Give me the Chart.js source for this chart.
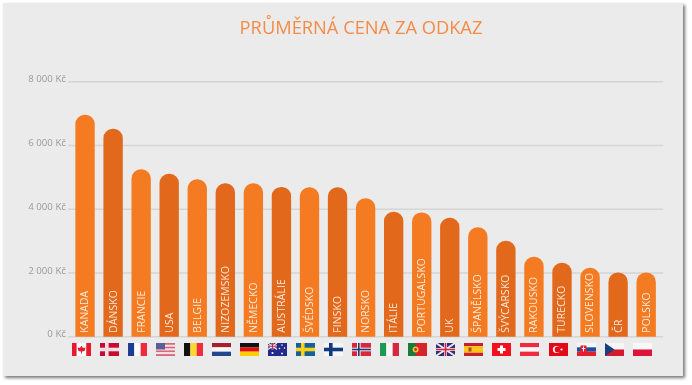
<!DOCTYPE html>
<html lang="cs">
<head>
  <meta charset="UTF-8">
  <title>Průměrná cena za odkaz</title>
  <script src="https://cdn.jsdelivr.net/npm/chart.js"></script>
  <style>
    body {
      margin: 0;
      background: #fff;
      font-family: "Open Sans", sans-serif;
    }
    #panel {
      position: absolute;
      left: 3px;
      top: 3px;
      width: 680px;
      height: 373px;
      background: #ebebeb;
      box-shadow: 2px 2px 3px #777;
    }
    #title {
      position: absolute;
      left: 161px;
      width: 400px;
      top: 14px;
      text-align: center;
      font-size: 18.3px;
      line-height: 26px;
      color: #f58b47;
      filter: blur(0.3px);
    }
    #wrap {
      position: absolute;
      left: 0;
      top: 0;
      width: 692px;
      height: 385px;
      filter: blur(0.35px);
    }
  </style>
</head>
<body>
<div id="panel"></div>
<div id="title">PRŮMĚRNÁ CENA ZA ODKAZ</div>
<div id="wrap"><canvas id="chart"></canvas></div>

<script>
  const countries = ['KANADA', 'DÁNSKO', 'FRANCIE', 'USA', 'BELGIE', 'NIZOZEMSKO', 'NĚMECKO', 'AUSTRÁLIE', 'ŠVÉDSKO', 'FINSKO', 'NORSKO', 'ITÁLIE', 'PORTUGALSKO', 'UK', 'ŠPANĚLSKO', 'ŠVÝCARSKO', 'RAKOUSKO', 'TURECKO', 'SLOVENSKO', 'ČR', 'POLSKO'];
  const prices = [6950, 6510, 5240, 5100, 4930, 4800, 4800, 4690, 4680, 4680, 4330, 3910, 3890, 3720, 3420, 3000, 2500, 2310, 2150, 2000, 2000];
  const tickLabels = ['0 Kč', '2 000 Kč', '4 000 Kč', '6 000 Kč', '8 000 Kč'];

  const LIGHT = '#f57b22';
  const DARK = '#e2691b';
  const FLAG_W = 19;
  const FLAG_H = 13;

  // flag helpers, all in local flag coordinates
  function hBands(c, colors) {
    colors.forEach((col, i) => {
      c.fillStyle = col;
      c.fillRect(0, i * FLAG_H / colors.length, FLAG_W, FLAG_H / colors.length);
    });
  }
  function vBands(c, colors) {
    colors.forEach((col, i) => {
      c.fillStyle = col;
      c.fillRect(i * FLAG_W / colors.length, 0, FLAG_W / colors.length, FLAG_H);
    });
  }
  function nordic(c, bg, cross, inner) {
    c.fillStyle = bg;
    c.fillRect(0, 0, FLAG_W, FLAG_H);
    c.fillStyle = cross;
    c.fillRect(5, 0, 3.6, FLAG_H);
    c.fillRect(0, 4.7, FLAG_W, 3.6);
    if (inner) {
      c.fillStyle = inner;
      c.fillRect(6, 0, 1.6, FLAG_H);
      c.fillRect(0, 5.7, FLAG_W, 1.6);
    }
  }
  function dot(c, x, y, r, col) {
    c.fillStyle = col;
    c.beginPath();
    c.arc(x, y, r, 0, Math.PI * 2);
    c.fill();
  }
  function union(c, w, h, lw) {
    c.fillStyle = '#27337f';
    c.fillRect(0, 0, w, h);
    c.strokeStyle = '#f4e6ea';
    c.lineWidth = lw;
    c.beginPath();
    c.moveTo(0, 0); c.lineTo(w, h);
    c.moveTo(w, 0); c.lineTo(0, h);
    c.stroke();
    c.lineWidth = lw * 1.5;
    c.beginPath();
    c.moveTo(w / 2, 0); c.lineTo(w / 2, h);
    c.moveTo(0, h / 2); c.lineTo(w, h / 2);
    c.stroke();
    c.strokeStyle = '#d2233f';
    c.lineWidth = lw * 0.8;
    c.stroke();
  }

  const flagPainters = {
    'KANADA': c => {
      vBands(c, ['#e8192c', '#fff', '#fff', '#e8192c']);
      c.fillStyle = '#e8192c';
      c.beginPath();
      c.moveTo(9.5, 2.5); c.lineTo(11, 5); c.lineTo(13.5, 4.5); c.lineTo(12.5, 8);
      c.lineTo(10, 8.5); c.lineTo(10, 10.5); c.lineTo(9, 10.5); c.lineTo(9, 8.5);
      c.lineTo(6.5, 8); c.lineTo(5.5, 4.5); c.lineTo(8, 5);
      c.closePath();
      c.fill();
    },
    'DÁNSKO': c => nordic(c, '#c60c30', '#f3dfe3'),
    'FRANCIE': c => vBands(c, ['#1c3f94', '#fff', '#ee2a3c']),
    'USA': c => {
      const stripes = [];
      for (let i = 0; i < 7; i++) stripes.push(i % 2 ? '#f4e4e8' : '#d9687c');
      hBands(c, stripes);
      c.fillStyle = '#5a5f94';
      c.fillRect(0, 0, 9, 6.5);
    },
    'BELGIE': c => vBands(c, ['#111', '#f8d92c', '#ee2e3a']),
    'NIZOZEMSKO': c => hBands(c, ['#a81f30', '#f6f6f6', '#21468b']),
    'NĚMECKO': c => hBands(c, ['#111', '#dd1010', '#ffce00']),
    'AUSTRÁLIE': c => {
      c.fillStyle = '#1f2a8c';
      c.fillRect(0, 0, FLAG_W, FLAG_H);
      union(c, 9, 6.5, 1.2);
      dot(c, 4.5, 10, 1.1, '#fff');
      dot(c, 14, 2, 0.8, '#fff');
      dot(c, 11.5, 5.5, 0.8, '#fff');
      dot(c, 16.5, 5, 0.8, '#fff');
      dot(c, 14, 10.5, 0.9, '#fff');
    },
    'ŠVÉDSKO': c => nordic(c, '#14609f', '#fcd116'),
    'FINSKO': c => nordic(c, '#f6f6f6', '#123a80'),
    'NORSKO': c => nordic(c, '#d9283a', '#f3eef0', '#1f3a7a'),
    'ITÁLIE': c => vBands(c, ['#1b9a55', '#f6f6f6', '#d6283e']),
    'PORTUGALSKO': c => {
      c.fillStyle = '#d8222c';
      c.fillRect(0, 0, FLAG_W, FLAG_H);
      c.fillStyle = '#1a7a3a';
      c.fillRect(0, 0, 7.6, FLAG_H);
      dot(c, 7.6, 6.5, 3, '#e6c337');
      dot(c, 7.6, 6.5, 1.4, '#c9302c');
    },
    'UK': c => union(c, FLAG_W, FLAG_H, 2),
    'ŠPANĚLSKO': c => {
      hBands(c, ['#c8202c', '#fcc30b', '#fcc30b', '#c8202c']);
      c.fillStyle = '#b5472a';
      c.fillRect(4.5, 4.5, 3, 4);
    },
    'ŠVÝCARSKO': c => {
      c.fillStyle = '#f2101e';
      c.fillRect(0, 0, FLAG_W, FLAG_H);
      c.fillStyle = '#fff';
      c.fillRect(8, 2.5, 3, 8);
      c.fillRect(5.5, 5, 8, 3);
    },
    'RAKOUSKO': c => hBands(c, ['#ef2b3d', '#f8f8f8', '#ef2b3d']),
    'TURECKO': c => {
      c.fillStyle = '#e30a17';
      c.fillRect(0, 0, FLAG_W, FLAG_H);
      dot(c, 7.5, 6.5, 3.6, '#fff');
      dot(c, 8.6, 6.5, 2.9, '#e30a17');
      dot(c, 12.5, 6.5, 1.1, '#fff');
    },
    'SLOVENSKO': c => {
      hBands(c, ['#f6f6f6', '#1c4fa0', '#e4202c']);
      c.fillStyle = '#e4202c';
      c.fillRect(3.5, 2.5, 6, 6);
      dot(c, 6.5, 8.5, 3, '#e4202c');
      c.fillStyle = '#fff';
      c.fillRect(6, 3.5, 1, 5);
      c.fillRect(4.8, 5, 3.4, 0.9);
    },
    'ČR': c => {
      hBands(c, ['#f6f6f6', '#d01c2e']);
      c.fillStyle = '#1a3f7c';
      c.beginPath();
      c.moveTo(0, 0); c.lineTo(9.5, FLAG_H / 2); c.lineTo(0, FLAG_H);
      c.closePath();
      c.fill();
    },
    'POLSKO': c => hBands(c, ['#f8f8f8', '#dc143c'])
  };

  // labels inside the bars and the flags below them
  const decorations = {
    id: 'decorations',
    afterDatasetsDraw(chart) {
      const ctx = chart.ctx;
      const meta = chart.getDatasetMeta(0);
      const baseY = chart.scales.y.getPixelForValue(0);
      meta.data.forEach((bar, i) => {
        ctx.save();
        ctx.translate(bar.x + 0.5, baseY - 4);
        ctx.rotate(-Math.PI / 2);
        ctx.font = '10.3px "Open Sans"';
        ctx.letterSpacing = '0.15px';
        ctx.fillStyle = 'rgba(255,255,255,0.85)';
        ctx.textAlign = 'left';
        ctx.textBaseline = 'middle';
        ctx.fillText(countries[i], 0, 0);
        ctx.restore();

        ctx.save();
        ctx.translate(Math.round(bar.x - 4 - FLAG_W / 2), Math.round(baseY + 6.5));
        flagPainters[countries[i]](ctx);
        ctx.restore();
      });
    }
  };

  // the grid runs slightly past the first and last bar's slot
  const wideGrid = {
    id: 'wideGrid',
    beforeDatasetsDraw(chart) {
      const ctx = chart.ctx;
      const y = chart.scales.y;
      ctx.save();
      ctx.strokeStyle = '#d5d5d5';
      ctx.lineWidth = 1.4;
      y.ticks.forEach(t => {
        const py = y.getPixelForValue(t.value);
        ctx.beginPath();
        ctx.moveTo(chart.chartArea.left - 3, py);
        ctx.lineTo(chart.chartArea.right + 3, py);
        ctx.stroke();
      });
      ctx.restore();
    }
  };

  new Chart(document.getElementById('chart'), {
    type: 'bar',
    data: {
      labels: countries,
      datasets: [{
        data: prices,
        backgroundColor: prices.map((p, i) => i % 2 ? DARK : LIGHT),
        barThickness: 18.7,
        borderRadius: { topLeft: 9.35, topRight: 9.35, bottomLeft: 0, bottomRight: 0 },
        borderSkipped: false
      }]
    },
    options: {
      responsive: true,
      maintainAspectRatio: false,
      animation: false,
      layout: { padding: { top: 81.7, right: 31.8, bottom: 48.3, left: 0 } },
      plugins: { legend: { display: false }, tooltip: { enabled: false } },
      scales: {
        x: { display: false, offset: true },
        y: {
          min: 0,
          max: 8000,
          afterFit: scale => { scale.width = 71; },
          border: { display: false },
          grid: { display: false, drawTicks: false },
          ticks: {
            stepSize: 2000,
            padding: 5,
            labelOffset: -2,
            color: '#9a9a9a',
            font: { family: '"Open Sans"', size: 9.7 },
            callback: (v, i) => tickLabels[i]
          }
        }
      }
    },
    plugins: [wideGrid, decorations]
  });
</script>
</body>
</html>
